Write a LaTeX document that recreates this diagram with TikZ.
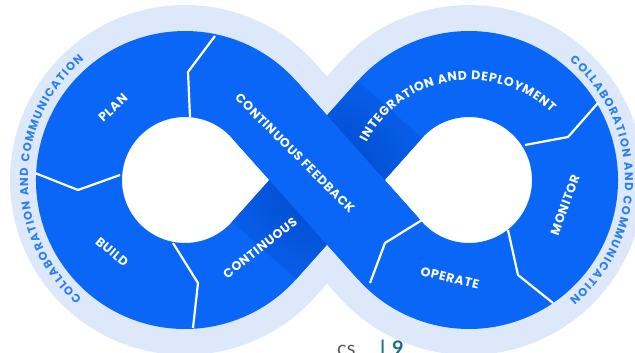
\documentclass[tikz,border=0pt]{standalone}
\usepackage{fontspec}
\setmainfont{Poppins}
\newfontfamily\lblfont[LetterSpace=5]{Poppins}
\newfontfamily\arcfont{Poppins}
\newfontfamily\logofont{Lato}
\usetikzlibrary{decorations.text}
\definecolor{bandblue}{HTML}{0A66F6}
\definecolor{lightband}{HTML}{DDE9FB}
\definecolor{darkblue}{HTML}{0046C4}
\definecolor{collabblue}{HTML}{2B7FF0}
\definecolor{logoteal}{HTML}{1D6E80}
\definecolor{logogray}{HTML}{5A5A5A}
\tikzset{
  lbl/.style={text=white, font=\lblfont\bfseries\fontsize{12.5}{12.5}\selectfont, inner sep=0pt},
  divider/.style={draw=white, line width=2.2pt, line join=round},
}
\begin{document}
\begin{tikzpicture}[x=1pt,y=1pt]
\useasboundingbox (0,0) rectangle (635,353);
\clip (0,0) rectangle (635,353);
\coordinate (L) at (185,173);
\coordinate (R) at (469,173);
\coordinate (X) at (327,173);
\coordinate (T1) at (264.1,243.5);
\coordinate (T2) at (264.1,102.5);
\coordinate (R1) at (389.9,243.5);
\coordinate (R2) at (389.9,102.5);
% light outer band
\draw[lightband, line width=138pt, line join=round]
  (X) -- (T1) arc[start angle=41.7, end angle=318.3, radius=106pt] -- (X)
  -- (R1) arc[start angle=138.3, end angle=-138.3, radius=106pt] -- cycle;
% holes
\fill[white] (X) -- (T1) arc[start angle=41.7, end angle=318.3, radius=106pt] -- cycle;
\fill[white] (X) -- (R1) arc[start angle=138.3, end angle=-138.3, radius=106pt] -- cycle;
% blue band
\draw[bandblue, line width=86pt, line join=round]
  (X) -- (T1) arc[start angle=41.7, end angle=318.3, radius=106pt] -- (X)
  -- (R1) arc[start angle=138.3, end angle=-138.3, radius=106pt] -- cycle;
% shading of the under band near the crossing
\begin{scope}
  \clip (232.0,131.1) -- (296.2,73.9) -- (422.0,214.9) -- (357.8,272.1) -- cycle;
  \shade[inner color=darkblue, outer color=bandblue] (X) circle (135pt);
\end{scope}
% over band
\draw[bandblue, line width=86pt] (T1) -- (R2);
% dividers
\draw[divider] (215,317) -- (188,281) -- (190,236);
\draw[divider] (35,180) -- (78,163) -- (120,178);
\draw[divider] (173,110) -- (198,70) -- (193,25);
\draw[divider] (598,250) -- (568,216) -- (525,208);
\draw[divider] (508,123) -- (518,78) -- (553,50);
\draw[divider] (422,133) -- (385,110) -- (370,70);
% labels
\node[lbl, rotate=43] (plan) at (113,245) {PLAN};
\node[lbl, rotate=-40] (build) at (112,101) {BUILD};
\node[lbl, rotate=38] (cont) at (260,105) {CONTINUOUS};
\node[lbl, rotate=-45] (feedback) at (295,200) {CONTINUOUS FEEDBACK};
\node[lbl, rotate=-14] (operate) at (450,75) {OPERATE};
\node[lbl, rotate=70] (monitor) at (565,148) {MONITOR};
\path[decorate, decoration={text along path, text align={fit to path},
  text={|\color{white}\arcfont\bfseries\fontsize{12.5}{12.5}\selectfont|INTEGRATION AND DEPLOYMENT}}]
  (470,156) ++(152:117pt) arc[start angle=152, end angle=46, radius=117pt];
\path[decorate, decoration={text along path, text align={fit to path},
  text={|\color{collabblue}\arcfont\bfseries\fontsize{11.5}{11.5}\selectfont|COLLABORATION AND COMMUNICATION}}]
  (185,173) ++(229:157pt) arc[start angle=229, end angle=130, radius=157pt];
\path[decorate, decoration={text along path, text align={fit to path},
  text={|\color{collabblue}\arcfont\bfseries\fontsize{11.5}{11.5}\selectfont|COLLABORATION AND COMMUNICATION}}]
  (469,173) ++(50:156pt) arc[start angle=50, end angle=-50, radius=156pt];
% cut-off footer text
\node[anchor=base west, inner sep=0pt, text=logogray, font=\logofont\fontsize{20}{20}\selectfont] (cs) at (337,-3) {cs};
\node[anchor=base west, inner sep=0pt, text=logoteal, font=\logofont\bfseries\fontsize{20}{20}\selectfont] (nine) at (380,-3) {|\,\,9};
\end{tikzpicture}
\end{document}
